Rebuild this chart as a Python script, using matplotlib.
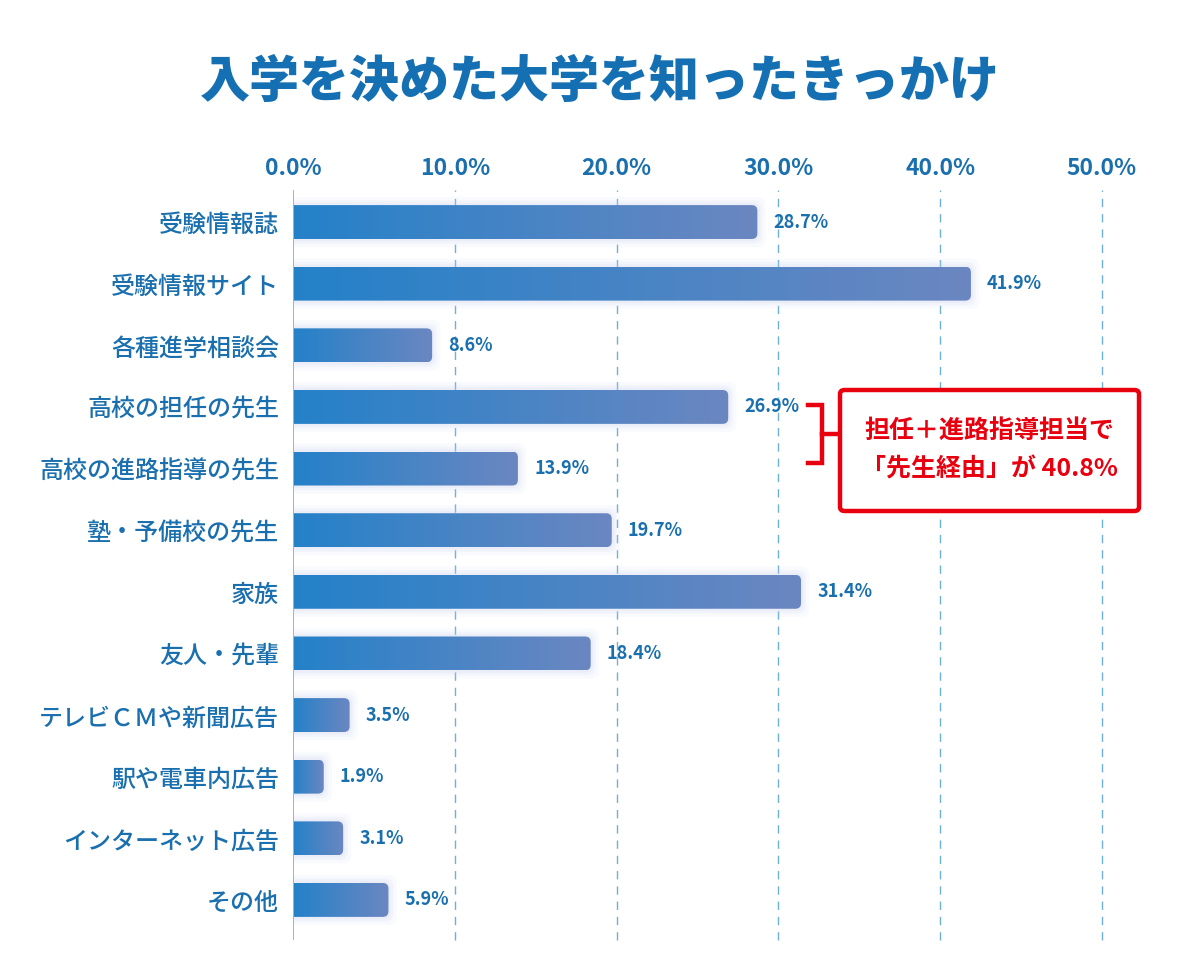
import numpy as np
import matplotlib
matplotlib.use("Agg")
import matplotlib.pyplot as plt
from matplotlib.patches import FancyBboxPatch
from matplotlib.colors import LinearSegmentedColormap

plt.rcParams['font.family'] = ['Noto Sans CJK JP', 'DejaVu Sans']

# === data ===
categories = [
    "受験情報誌", "受験情報サイト", "各種進学相談会", "高校の担任の先生",
    "高校の進路指導の先生", "塾・予備校の先生", "家族", "友人・先輩",
    "テレビＣＭや新聞広告", "駅や電車内広告", "インターネット広告", "その他",
]
values = [28.7, 41.9, 8.6, 26.9, 13.9, 19.7, 31.4, 18.4, 3.5, 1.9, 3.1, 5.9]
xticks = [0, 10, 20, 30, 40, 50]
title = "入学を決めた大学を知ったきっかけ"
note_lines = ["担任＋進路指導担当で", "「先生経由」が 40.8%"]

BLUE = "#1a6fae"
RED = "#e8000f"
grad = LinearSegmentedColormap.from_list("bar", ["#2481c9", "#6b87c1"])

W, H = 1200, 980
fig = plt.figure(figsize=(W / 100, H / 100), dpi=100)
ax = fig.add_axes([293 / W, 1 - 940 / H, (1102 - 293) / W, 750 / H])

n = len(categories)
ylo, yhi = n - 0.35, -0.52

# px per unit for rounding aspect
px_x = (1102 - 293) / 50
px_y = 750 / (ylo - yhi)
aspect = px_x / px_y
bh = 0.55

for i, v in enumerate(values):
    y0 = i - bh / 2
    # soft glow
    for k, a in [(0.5, 0.10), (0.3, 0.12), (0.15, 0.15)]:
        g = FancyBboxPatch((-1, y0), v + 1, bh,
                           boxstyle=f"round,pad={k},rounding_size=0.5",
                           mutation_aspect=aspect, fc="#c5d0f0", ec="none",
                           alpha=a, zorder=1)
        ax.add_patch(g)
    p = FancyBboxPatch((-1, y0), v + 1, bh,
                       boxstyle="round,pad=0,rounding_size=0.35",
                       mutation_aspect=aspect, fc="none", ec="none", zorder=2)
    ax.add_patch(p)
    im = ax.imshow(np.linspace(0, 1, 256).reshape(1, -1), cmap=grad,
                   extent=(0, v, y0 + bh, y0), aspect="auto", zorder=3,
                   interpolation="bilinear")
    im.set_clip_path(p)
    ax.text(v + 1.0, i, f"{v:.1f}%", va="center", ha="left", fontsize=13,
            fontweight="bold", color=BLUE, zorder=4)

ax.set_xlim(0, 50)
ax.set_ylim(ylo, yhi)

# grid
for x in xticks[1:]:
    ax.axvline(x, color="#6fb0da", lw=1, ls=(0, (6, 5)), zorder=0, clip_on=False)
ax.axvline(0, color="#8dbad8", lw=1.4, zorder=5)

for s in ax.spines.values():
    s.set_visible(False)

ax.xaxis.tick_top()
ax.set_xticks(xticks)
ax.set_xticklabels([f"{x:.1f}%" for x in xticks], fontsize=16.5,
                   fontweight="bold", color=BLUE)
ax.tick_params(axis="x", length=0, pad=7)
ax.set_yticks(range(n))
ax.set_yticklabels(categories, fontsize=17.3, color=BLUE, fontweight="medium")
ax.tick_params(axis="y", length=0, pad=10)

fig.text(0.5, 1 - 82 / H, title, ha="center", va="center", fontsize=36,
         fontweight="heavy", color="#1570b3")

# bracket and note box (figure pixel coords)
def fx(px):
    return px / W


def fy(py):
    return 1 - py / H


bx = [808, 822, 822, 808]
by = [405, 405, 463, 463]
fig.add_artist(plt.Line2D([fx(x) for x in bx], [fy(y) for y in by],
                          color=RED, lw=3.2, solid_joinstyle="miter"))
fig.add_artist(plt.Line2D([fx(822), fx(839)], [fy(434), fy(434)],
                          color=RED, lw=3.2))
box = FancyBboxPatch((fx(840), fy(511)), fx(1139) - fx(840), fy(390) - fy(511),
                     boxstyle="round,pad=0,rounding_size=0.004",
                     transform=fig.transFigure, fc="white", ec=RED, lw=3.2)
fig.add_artist(box)
fig.text(fx(989), fy(431), note_lines[0], ha="center", va="center",
         fontsize=18, fontweight="bold", color=RED)
fig.text(fx(989), fy(469), note_lines[1], ha="center", va="center",
         fontsize=18, fontweight="bold", color=RED)

fig.savefig("out.png", dpi=100)
